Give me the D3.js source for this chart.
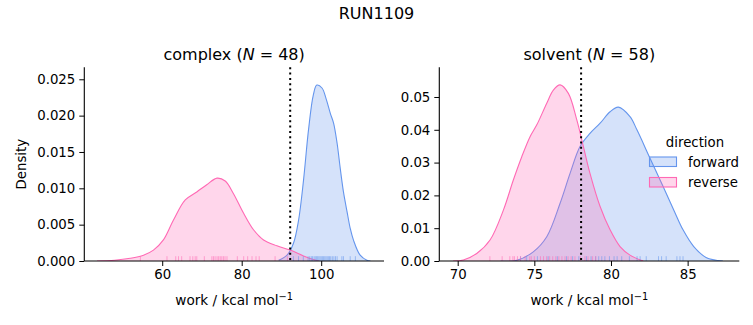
<!DOCTYPE html>
<html><head><meta charset="utf-8">
<script src="https://cdn.jsdelivr.net/npm/d3@7"></script>
<style>body{margin:0;background:#fff;} text{font-family:"DejaVu Sans",sans-serif;fill:#000;}</style>
</head><body><svg id="c" width="753" height="325"></svg>
<script>
// ---- data ----
const directions = ["forward", "reverse"];
const colors = {forward: "#6495ed", reverse: "#ff69b4"};

// complex panel KDE curves
const complexForwardX = [89.3, 91.4, 93.0, 94.3, 95.55, 96.8, 98.0, 98.9, 100.2, 101.3, 102.3, 103.1, 104.0, 104.8, 105.6, 106.5, 107.3, 108.1, 109.8, 111.5, 112.4];
const complexForwardY = [0.0001, 0.0008, 0.0024, 0.0056, 0.0111, 0.018, 0.0228, 0.0242, 0.0238, 0.0222, 0.0203, 0.0190, 0.0162, 0.0127, 0.0095, 0.0068, 0.0045, 0.0029, 0.0008, 0.0001, 0];
const complexReverseX = [43.6, 48.0, 51.95, 55.3, 57.8, 60.3, 62.8, 65.8, 68.7, 71.2, 73.8, 75.85, 77.9, 80.45, 82.97, 85.5, 88.85, 92.2, 95.55, 98.06, 99.5];
const complexReverseY = [0, 0.0001, 0.00037, 0.0008, 0.0015, 0.0029, 0.0056, 0.0084, 0.0095, 0.0105, 0.0114, 0.0110, 0.0093, 0.0066, 0.0043, 0.0029, 0.0021, 0.0015, 0.0007, 0.0002, 0];
const complexForwardRug = [93.0, 94.3, 95.5, 96.7, 97.1, 97.5, 97.8, 98.2, 98.5, 98.8, 99.1, 99.4, 99.7, 100.0, 100.3, 100.6, 100.9, 101.2, 101.5, 101.8, 102.1, 102.4, 102.8, 103.2, 103.6, 104.0, 105.2, 105.6, 107.3, 108.6];
const complexReverseRug = [54.5, 61.2, 63.4, 64.1, 64.9, 67.0, 67.7, 68.3, 68.7, 70.6, 72.5, 72.9, 73.3, 73.8, 74.2, 74.6, 75.0, 75.4, 75.8, 76.3, 78.9, 80.5, 81.5, 82.6, 83.6, 84.4, 88.4, 91.5];
const complexVLine = 92.2;
const complexN = 48;

// solvent panel KDE curves
const solventForwardX = [72.8, 73.85, 74.93, 75.81, 76.68, 77.33, 77.98, 78.63, 79.29, 79.94, 80.48, 81.24, 81.7, 82.5, 83.4, 84.1, 84.7, 85.4, 86.2, 87.3];
const solventForwardY = [0, 0.0002, 0.0028, 0.0074, 0.0176, 0.0267, 0.0349, 0.0389, 0.042, 0.0455, 0.0469, 0.044, 0.0399, 0.0318, 0.0227, 0.0155, 0.0095, 0.0044, 0.0011, 0];
const solventReverseX = [69.7, 70.37, 71.24, 72.11, 72.98, 73.63, 74.18, 74.72, 75.16, 75.81, 76.24, 76.68, 77.22, 77.77, 78.2, 78.63, 79.29, 79.94, 80.59, 81.24, 82.1];
const solventReverseY = [0, 0.0003, 0.0023, 0.0064, 0.0155, 0.0247, 0.0318, 0.0379, 0.0415, 0.0481, 0.0521, 0.0537, 0.0511, 0.043, 0.0349, 0.0267, 0.0166, 0.0095, 0.0044, 0.0018, 0];
const solventForwardRug = [74.1, 74.5, 75.2, 75.9, 76.5, 77.1, 77.5, 77.9, 78.4, 78.7, 79.0, 79.2, 79.4, 79.6, 79.9, 80.2, 80.4, 80.7, 81.2, 81.7, 81.9, 82.3, 83.1, 83.3, 83.6, 84.3, 84.5, 84.7];
const solventReverseRug = [72.1, 72.9, 73.4, 73.6, 73.7, 73.9, 74.1, 74.4, 74.7, 74.8, 75.0, 75.4, 75.6, 75.8, 76.0, 76.2, 76.4, 76.6, 76.8, 77.0, 77.2, 77.4, 77.65, 78.0, 78.3, 78.5, 78.8, 79.0];
const solventVLine = 78.05;
const solventN = 58;

const complexXTicks = [60, 80, 100];
const complexYTicks = [0, 0.005, 0.010, 0.015, 0.020, 0.025];
const solventXTicks = [70, 75, 80, 85];
const solventYTicks = [0, 0.01, 0.02, 0.03, 0.04, 0.05];

// ---- drawing ----
const svg = d3.select("#c");
const yTop = 67.3, yBottom = 261;

svg.append("text").attr("x", 376.5).attr("y", 19).attr("text-anchor", "middle")
  .style("font-size", "16px").text("RUN1109");

const panels = [
  {name: "complex", N: complexN, x0: 84.3, x1: 384, xd: [40.4, 115.8], yd: [0, 0.02665],
   xt: complexXTicks, yt: complexYTicks, yf: d3.format(".3f"), vline: complexVLine,
   curves: {forward: [complexForwardX, complexForwardY], reverse: [complexReverseX, complexReverseY]},
   rugs: {forward: complexForwardRug, reverse: complexReverseRug}, ylabel: true},
  {name: "solvent", N: solventN, x0: 439.3, x1: 739.3, xd: [68.8, 88.37], yd: [0, 0.05905],
   xt: solventXTicks, yt: solventYTicks, yf: d3.format(".2f"), vline: solventVLine,
   curves: {forward: [solventForwardX, solventForwardY], reverse: [solventReverseX, solventReverseY]},
   rugs: {forward: solventForwardRug, reverse: solventReverseRug}, ylabel: false}
];

panels.forEach(p => {
  const x = d3.scaleLinear().domain(p.xd).range([p.x0, p.x1]);
  const y = d3.scaleLinear().domain(p.yd).range([yBottom, yTop]);
  const g = svg.append("g");
  const clipId = "clip-" + p.name;
  svg.append("clipPath").attr("id", clipId).append("rect")
    .attr("x", p.x0).attr("y", yTop).attr("width", p.x1 - p.x0).attr("height", yBottom - yTop);

  const area = d3.area().x(d => x(d[0])).y0(y(0)).y1(d => y(d[1])).curve(d3.curveCatmullRom.alpha(0.5));
  const line = d3.line().x(d => x(d[0])).y(d => y(d[1])).curve(d3.curveCatmullRom.alpha(0.5));

  directions.forEach(dir => {
    const [xs, ys] = p.curves[dir];
    const pts = xs.map((v, i) => [v, ys[i]]);
    g.append("path").datum(pts).attr("d", area).attr("fill", colors[dir]).attr("fill-opacity", 0.27)
      .attr("clip-path", `url(#${clipId})`);
    g.append("path").datum(pts).attr("d", line).attr("fill", "none").attr("stroke", colors[dir])
      .attr("stroke-width", 1.1).attr("clip-path", `url(#${clipId})`);
  });
  directions.forEach(dir => {
    g.selectAll(null).data(p.rugs[dir]).enter().append("line")
      .attr("x1", d => x(d)).attr("x2", d => x(d))
      .attr("y1", yBottom).attr("y2", yBottom - 4.8)
      .attr("stroke", colors[dir]).attr("stroke-opacity", 0.55).attr("stroke-width", 1);
  });
  // vertical dotted line
  g.append("line").attr("x1", x(p.vline)).attr("x2", x(p.vline)).attr("y1", yTop).attr("y2", yBottom)
    .attr("stroke", "#000").attr("stroke-width", 2).attr("stroke-dasharray", "2,3.3");

  // axes
  const xa = svg.append("g").attr("transform", `translate(0,${yBottom})`)
    .call(d3.axisBottom(x).tickValues(p.xt).tickSize(5).tickPadding(4).tickFormat(d3.format("d")));
  const ya = svg.append("g").attr("transform", `translate(${p.x0},0)`)
    .call(d3.axisLeft(y).tickValues(p.yt).tickSize(5).tickPadding(4).tickFormat(p.yf));
  [xa, ya].forEach(a => {
    a.select(".domain").attr("stroke", "#000").attr("stroke-width", 1.1);
    a.selectAll(".tick line").attr("stroke", "#000").attr("stroke-width", 1);
    a.selectAll(".tick text").style("font-size", "13.3px").style("font-family", "DejaVu Sans").attr("fill", "#000");
  });
  xa.select(".domain").attr("d", `M${p.x0},0H${p.x1}`);
  ya.select(".domain").attr("d", `M0,${yBottom}V${yTop}`);

  // title
  const cx = (p.x0 + p.x1) / 2;
  const t = svg.append("text").attr("x", cx).attr("y", 59.5).attr("text-anchor", "middle").style("font-size", "16px");
  t.append("tspan").text(p.name + " (");
  t.append("tspan").style("font-style", "italic").text("N");
  t.append("tspan").text(" = " + p.N + ")");

  // x label
  const xl = svg.append("text").attr("x", cx).attr("y", 305).attr("text-anchor", "middle").style("font-size", "13.6px");
  xl.append("tspan").text("work / kcal mol");
  xl.append("tspan").attr("dy", -5).style("font-size", "9.8px").text("\u22121");

  if (p.ylabel) {
    svg.append("text").attr("transform", `translate(26,${(yTop + yBottom) / 2}) rotate(-90)`)
      .attr("text-anchor", "middle").style("font-size", "13.3px").text("Density");
  }
});

// legend
const lg = svg.append("g");
lg.append("text").attr("x", 695).attr("y", 147).attr("text-anchor", "middle").style("font-size", "13.3px").text("direction");
directions.forEach((dir, i) => {
  const yy = 157 + i * 20.5;
  lg.append("rect").attr("x", 649.5).attr("y", yy).attr("width", 27).attr("height", 9.5)
    .attr("fill", colors[dir]).attr("fill-opacity", 0.27).attr("stroke", colors[dir]).attr("stroke-width", 1.1);
  lg.append("text").attr("x", 688).attr("y", yy + 9.5).style("font-size", "13.3px").text(dir);
});
</script></body></html>
